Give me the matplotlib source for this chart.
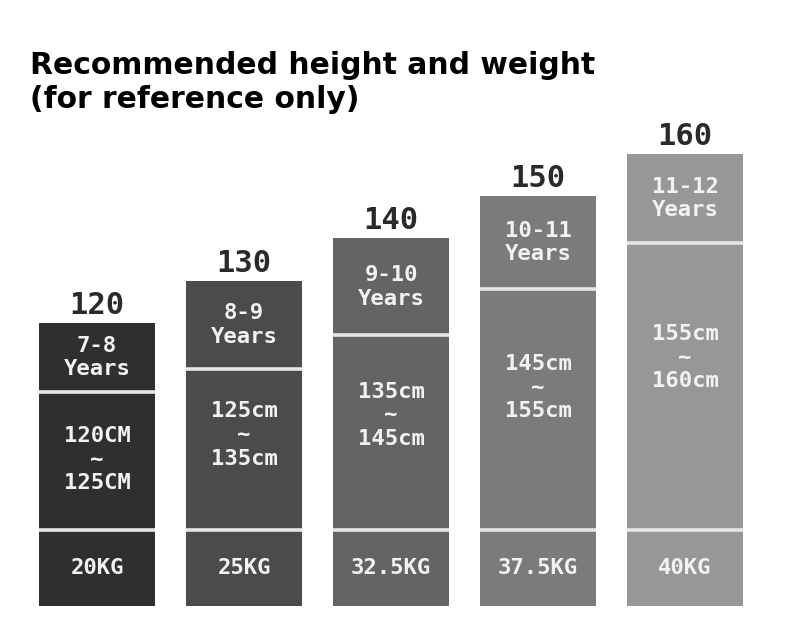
import matplotlib
matplotlib.use('Agg')
import matplotlib.pyplot as plt

# data
heights = [120, 130, 140, 150, 160]
ages = ['7-8\nYears', '8-9\nYears', '9-10\nYears', '10-11\nYears', '11-12\nYears']
ranges = ['120CM\n~\n125CM', '125cm\n~\n135cm', '135cm\n~\n145cm',
          '145cm\n~\n155cm', '155cm\n~\n160cm']
weights = ['20KG', '25KG', '32.5KG', '37.5KG', '40KG']
age_band = [16.3, 20.9, 22.9, 22.0, 21.1]   # top segment size, same units as heights

# layout
BASE = 53.0
WEIGHT_BAND = 18.0
range_label_pos = [0.51, 0.59, 0.59, 0.59, 0.60]   # fraction up the middle segment
bar_colors = ['#2f2f2f', '#4b4b4b', '#646464', '#7b7b7b', '#979797']
SEP = '#e6e6e6'
MONO = 'DejaVu Sans Mono'

fig = plt.figure(figsize=(7.9, 6.34), dpi=100)
ax = fig.add_axes([0, 0, 1, 1])
ax.set_xlim(-0.66, 4.714)
ax.set_ylim(46.4, 196.4)
ax.axis('off')

width = 0.79
for i, h in enumerate(heights):
    w_top = BASE + WEIGHT_BAND
    a_bot = h - age_band[i]
    ax.bar(i, h - BASE, bottom=BASE, width=width, color=bar_colors[i], linewidth=0)
    ax.hlines([w_top, a_bot], i - width / 2, i + width / 2, colors=SEP, linewidth=2.6)

    ax.annotate(str(h), (i, h), xytext=(0, 6.5), textcoords='offset points',
                ha='center', va='baseline', fontsize=22, fontweight='bold',
                family=MONO, color='#2a2a2a')
    ax.text(i, (h + a_bot) / 2, ages[i], ha='center', va='center',
            fontsize=16, fontweight='bold', family=MONO, color='#f2f2f2',
            linespacing=1.22)
    y_r = w_top + range_label_pos[i] * (a_bot - w_top)
    ax.text(i, y_r, ranges[i], ha='center', va='center',
            fontsize=16, fontweight='bold', family=MONO, color='#f2f2f2',
            linespacing=1.22)
    ax.text(i, BASE + WEIGHT_BAND / 2, weights[i], ha='center', va='center',
            fontsize=16, fontweight='bold', family=MONO, color='#f2f2f2')

fig.text(30 / 790, 1 - 74 / 634, 'Recommended height and weight', ha='left',
         va='baseline', fontsize=21.4, fontweight='bold', family='DejaVu Sans',
         color='black')
fig.text(30 / 790, 1 - 108 / 634, '(for reference only)', ha='left',
         va='baseline', fontsize=21.4, fontweight='bold', family='DejaVu Sans',
         color='black')

fig.savefig('out.png', dpi=100)
